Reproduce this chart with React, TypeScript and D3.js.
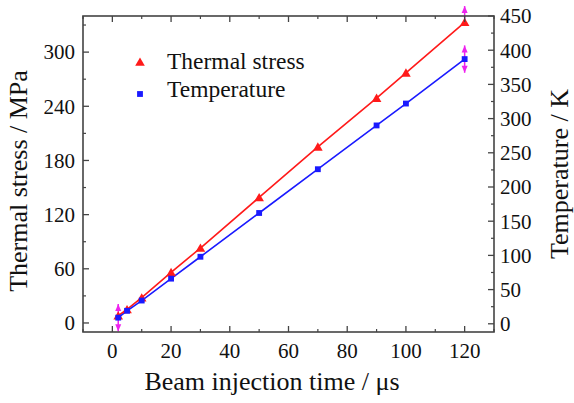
import React from "react";
import * as d3 from "d3";

const times = [2, 5, 10, 20, 30, 50, 70, 90, 100, 120];
const stress = [8, 15, 28, 56, 83, 139, 195, 249, 277, 333];
const temperature = [9, 19, 34, 66, 98, 162, 226, 290, 322, 387];
const tempErrX = [2, 120];
const tempErrUp = [20, 20];
const tempErrDown = [20, 20];
const stressErrX = [120];
const stressErrUp = [18];
const stressErrDown = [0];

const xTicks = [0, 20, 40, 60, 80, 100, 120];
const xMinor = [-10, 10, 30, 50, 70, 90, 110, 130];
const yLeftTicks = [0, 60, 120, 180, 240, 300];
const yLeftMinor = [30, 90, 150, 210, 270, 330];
const yRightTicks = [0, 50, 100, 150, 200, 250, 300, 350, 400, 450];
const yRightMinor = [25, 75, 125, 175, 225, 275, 325, 375, 425];

const legendLabels = ["Thermal stress", "Temperature"];

const W = 574, H = 403;
const L = 83, R = 494, T = 16, B = 332;
const RED = "#ff1a1a";
const BLUE = "#1a1aff";
const MAG = "#ee22ee";
const AXIS = "#444";
const FONT = "'Liberation Serif', 'Times New Roman', serif";

export default function App() {
  const x = d3.scaleLinear().domain([-10, 130]).range([L, R]);
  const yL = d3.scaleLinear().domain([-10, 340]).range([B, T]);
  const yR = d3.scaleLinear().domain([-12, 450]).range([B, T]);

  const lineS = d3.line<number>().x((_, i) => x(times[i])).y((d) => yL(d));
  const lineT = d3.line<number>().x((_, i) => x(times[i])).y((d) => yR(d));
  const tri = d3.symbol().type(d3.symbolTriangle).size(40)();
  const sq = d3.symbol().type(d3.symbolSquare).size(34)();

  const arrow = (px: number, y0: number, y1: number, key: string) => {
    const dir = y1 < y0 ? -1 : 1;
    return (
      <g key={key}>
        <line x1={px} x2={px} y1={y0} y2={y1} stroke={MAG} strokeWidth={1.5} />
        <path d={`M${px - 3},${y1 - dir * 7} L${px + 3},${y1 - dir * 7} L${px},${y1} Z`} fill={MAG} />
      </g>
    );
  };

  return (
    <svg width={W} height={H} style={{ position: "absolute", left: 0, top: 0, background: "#fff" }} fontFamily={FONT}>
      <rect x={0} y={0} width={W} height={H} fill="#fff" />
      {tempErrX.map((xv, k) => {
        const i = times.indexOf(xv);
        const v = temperature[i];
        return (
          <g key={"te" + k}>
            {tempErrUp[k] > 0 && arrow(x(xv), yR(v), yR(v + tempErrUp[k]), "u")}
            {tempErrDown[k] > 0 && arrow(x(xv), yR(v), yR(v - tempErrDown[k]), "d")}
          </g>
        );
      })}
      {stressErrX.map((xv, k) => {
        const i = times.indexOf(xv);
        const v = stress[i];
        return (
          <g key={"se" + k}>
            {stressErrUp[k] > 0 && arrow(x(xv), yL(v), yL(v + stressErrUp[k]), "u")}
            {stressErrDown[k] > 0 && arrow(x(xv), yL(v), yL(v - stressErrDown[k]), "d")}
          </g>
        );
      })}
      <path d={lineS(stress) || ""} fill="none" stroke={RED} strokeWidth={1.6} />
      <path d={lineT(temperature) || ""} fill="none" stroke={BLUE} strokeWidth={1.6} />
      {stress.map((v, i) => (
        <path key={"s" + i} d={tri || ""} transform={`translate(${x(times[i])},${yL(v) + 1})`} fill={RED} />
      ))}
      {temperature.map((v, i) => (
        <path key={"t" + i} d={sq || ""} transform={`translate(${x(times[i])},${yR(v)})`} fill={BLUE} />
      ))}

      <rect x={L} y={T} width={R - L} height={B - T} fill="none" stroke={AXIS} strokeWidth={1.6} />

      {xTicks.map((t) => (
        <g key={"xt" + t}>
          <line x1={x(t)} x2={x(t)} y1={B} y2={B - 6} stroke={AXIS} strokeWidth={1.3} />
          <line x1={x(t)} x2={x(t)} y1={T} y2={T + 6} stroke={AXIS} strokeWidth={1.3} />
          <text x={x(t)} y={B + 26} textAnchor="middle" fontSize={21} fill="#111">{t}</text>
        </g>
      ))}
      {xMinor.map((t) => (
        <g key={"xm" + t}>
          <line x1={x(t)} x2={x(t)} y1={B} y2={B - 3} stroke={AXIS} strokeWidth={1.2} />
          <line x1={x(t)} x2={x(t)} y1={T} y2={T + 3} stroke={AXIS} strokeWidth={1.2} />
        </g>
      ))}

      {yLeftTicks.map((t) => (
        <g key={"yl" + t}>
          <line x1={L} x2={L + 6} y1={yL(t)} y2={yL(t)} stroke={AXIS} strokeWidth={1.3} />
          <text x={L - 8} y={yL(t)} dy="0.35em" textAnchor="end" fontSize={21} fill="#111">{t}</text>
        </g>
      ))}
      {yLeftMinor.map((t) => (
        <line key={"ylm" + t} x1={L} x2={L + 3} y1={yL(t)} y2={yL(t)} stroke={AXIS} strokeWidth={1.2} />
      ))}

      {yRightTicks.map((t) => (
        <g key={"yr" + t}>
          <line x1={R} x2={R - 6} y1={yR(t)} y2={yR(t)} stroke={AXIS} strokeWidth={1.3} />
          <text x={R + 6} y={yR(t)} dy="0.35em" textAnchor="start" fontSize={21} fill="#111">{t}</text>
        </g>
      ))}
      {yRightMinor.map((t) => (
        <line key={"yrm" + t} x1={R} x2={R - 3} y1={yR(t)} y2={yR(t)} stroke={AXIS} strokeWidth={1.2} />
      ))}

      <text x={272} y={390} textAnchor="middle" fontSize={26} fill="#111">Beam injection time / μs</text>
      <text transform="translate(27,181) rotate(-90)" textAnchor="middle" fontSize={26} fill="#111">Thermal stress / MPa</text>
      <text transform="translate(568,174) rotate(-90)" textAnchor="middle" fontSize={26} fill="#111">Temperature / K</text>

      <path d={tri || ""} transform="translate(140,63)" fill={RED} />
      <text x={167} y={69} fontSize={23.5} fill="#111">{legendLabels[0]}</text>
      <path d={sq || ""} transform="translate(140,94)" fill={BLUE} />
      <text x={167} y={97} fontSize={23.5} fill="#111">{legendLabels[1]}</text>
    </svg>
  );
}
